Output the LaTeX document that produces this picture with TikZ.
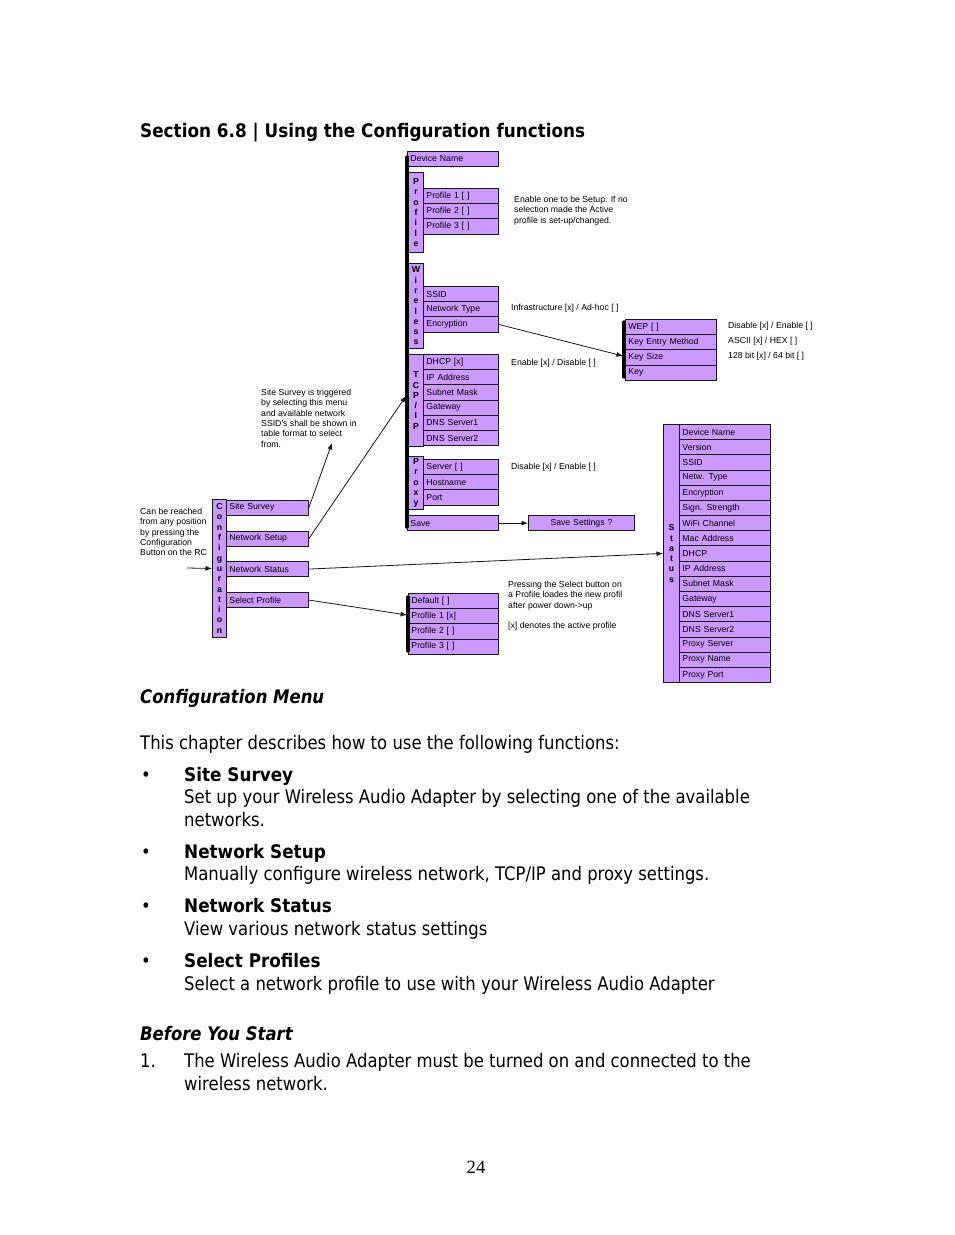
\documentclass[tikz,border=0pt]{standalone}
\usepackage{fontspec}
\setmainfont{Liberation Serif}
\newfontfamily\bodyfont[FakeStretch=0.88, BoldFeatures={FakeStretch=0.9}]{DejaVu Sans}
\newfontfamily\diafont{Liberation Sans}
\usetikzlibrary{arrows.meta,positioning}
\definecolor{menu}{RGB}{204,153,255}
\newcommand{\bodysize}{\fontsize{18.7}{22.5}\selectfont}
\newcommand{\diasize}{\fontsize{8.7}{10.3}\selectfont}

\tikzset{
	item/.style={draw=black!90, fill=menu, line width=0.9pt, anchor=north west,
		minimum height=15.2pt, inner xsep=3pt, inner ysep=0pt, text width=#1,
		align=left, font=\diafont\diasize},
	item/.default=69pt,
	tab/.style={draw=black!90, fill=menu, line width=0.9pt, anchor=north west,
		minimum width=15pt, inner sep=0pt, align=center, font=\diafont\bfseries\diasize},
	spine/.style={line width=3.4pt, line cap=round},
	link/.style={-{Latex[length=6.5pt,width=5pt]}, line width=0.8pt, black!90},
	note/.style={anchor=north west, inner sep=0pt, align=left, font=\diafont\diasize},
	body/.style={anchor=base west, inner sep=0pt, font=\bodyfont\bodysize},
	head/.style={body, font=\bodyfont\bfseries\bodysize},
	headit/.style={body, font=\bodyfont\bfseries\itshape\bodysize}
}

\begin{document}
\begin{tikzpicture}[x=1pt, y=-1pt]
	\useasboundingbox[fill=white] (0,0) rectangle (954,1235);
	% Ueberschrift
	\node[head] (title) at (140,137.5) {Section 6.8 | Using the Configuration functions};
	% Konfiguration
	\node[tab, minimum height=138pt, minimum width=14pt] (config) at (212,499) {C\\o\\n\\f\\i\\g\\u\\r\\a\\t\\i\\o\\n};
	\node[item=76pt] (survey) at (226,499.5) {Site Survey};
	\node[item=76pt] (setup) at (226,530.5) {Network Setup};
	\node[item=76pt] (netstatus) at (226,561) {Network Status};
	\node[item=76pt] (select) at (226,592) {Select Profile};
	% Network Setup
	\node[item=85pt] (devname) at (407,150.5) {Device Name};
	\node[tab, minimum height=80pt] (profile) at (408,172) {P\\r\\o\\f\\i\\l\\e};
	\node[item] (prof1) at (423,188) {Profile 1 [ ]};
	\node[item] (prof2) at (423,203.2) {Profile 2 [ ]};
	\node[item] (prof3) at (423,218.4) {Profile 3 [ ]};
	\node[tab, minimum height=85pt] (wireless) at (408,263) {W\\i\\r\\e\\l\\e\\s\\s};
	\node[item] (ssid) at (423,286) {SSID};
	\node[item] (nettype) at (423,301.2) {Network Type};
	\node[item] (encrypt) at (423,316.4) {Encryption};
	\node[tab, minimum height=92pt] (tcpip) at (408,354) {T\\C\\P\\/\\I\\P};
	\node[item] (dhcp) at (423,354) {DHCP [x]};
	\node[item] (ipaddr) at (423,369.2) {IP Address};
	\node[item] (subnet) at (423,384.4) {Subnet Mask};
	\node[item] (gateway) at (423,399.6) {Gateway};
	\node[item] (dnsa) at (423,414.8) {DNS Server1};
	\node[item] (dnsb) at (423,430) {DNS Server2};
	\node[tab, minimum height=53pt] (proxy) at (408,456) {P\\r\\o\\x\\y};
	\node[item] (server) at (423,459) {Server [ ]};
	\node[item] (hostname) at (423,474.2) {Hostname};
	\node[item] (port) at (423,489.4) {Port};
	\node[item=85pt] (save) at (407,515) {Save};
	\node[item=100pt, align=center] (savesettings) at (528,515) {Save Settings ?};
	% WEP
	\node[item=85pt] (wep) at (625,319) {WEP [ ]};
	\node[item=85pt] (keyentry) at (625,334.2) {Key Entry Method};
	\node[item=85pt] (keysize) at (625,349.4) {Key Size};
	\node[item=85pt] (key) at (625,364.6) {Key};
	% Profil waehlen
	\node[item=84pt] (default) at (408,593) {Default [ ]};
	\node[item=84pt] (selone) at (408,608.2) {Profile 1 [x]};
	\node[item=84pt] (seltwo) at (408,623.4) {Profile 2 [ ]};
	\node[item=84pt] (selthree) at (408,638.6) {Profile 3 [ ]};
	% Status
	\node[tab, minimum height=258pt, minimum width=16pt] (status) at (663,424) {S\\t\\a\\t\\u\\s};
	\node[item=85pt] (stdev) at (679,424) {Device Name};
	\node[item=85pt] (stver) at (679,439.2) {Version};
	\node[item=85pt] (stssid) at (679,454.4) {SSID};
	\node[item=85pt] (sttype) at (679,469.5) {Netw. Type};
	\node[item=85pt] (stenc) at (679,484.7) {Encryption};
	\node[item=85pt] (stsign) at (679,499.9) {Sign. Strength};
	\node[item=85pt] (stchan) at (679,515.1) {WiFi Channel};
	\node[item=85pt] (stmac) at (679,530.3) {Mac Address};
	\node[item=85pt] (stdhcp) at (679,545.4) {DHCP};
	\node[item=85pt] (stip) at (679,560.6) {IP Address};
	\node[item=85pt] (stmask) at (679,575.8) {Subnet Mask};
	\node[item=85pt] (stgate) at (679,591) {Gateway};
	\node[item=85pt] (stdnsa) at (679,606.2) {DNS Server1};
	\node[item=85pt] (stdnsb) at (679,621.3) {DNS Server2};
	\node[item=85pt] (stpserver) at (679,636.5) {Proxy Server};
	\node[item=85pt] (stpname) at (679,651.7) {Proxy Name};
	\node[item=85pt] (stpport) at (679,666.9) {Proxy Port};
	% Balken
	\draw[spine] (407,157) -- (407,527);
	\draw[spine] (624,322) -- (624,377);
	\draw[spine] (408,597) -- (408,651);
	% Hinweise
	\node[note] (cfgnote) at (140,508) {Can be reached\\from any position\\by pressing the\\Configuration\\Button on the RC};
	\node[note] (surveynote) at (261,389) {Site Survey is triggered\\by selecting this menu\\and available network\\SSID's shall be shown in\\table format to select\\from.};
	\node[note] (profnote) at (514,196) {Enable one to be Setup. If no\\selection made the Active\\profile is set-up/changed.};
	\node[note, anchor=west] (typenote) at (511,308) {Infrastructure [x] / Ad-hoc [ ]};
	\node[note, anchor=west] (dhcpnote) at (511,363) {Enable [x] / Disable [ ]};
	\node[note, anchor=west] (proxynote) at (511,467) {Disable [x] / Enable [ ]};
	\node[note, font=\diafont\fontsize{8.7}{15}\selectfont] (wepnote) at (728,322) {Disable [x] / Enable [ ]\\ASCII [x] / HEX [ ]\\128 bit [x] / 64 bit [ ]};
	\node[note] (selnote) at (508,581) {Pressing the Select button on\\a Profile loades the new profil\\after power down->up\\[10.3pt]{[x]} denotes the active profile};
	% Pfeile
	\coordinate (entry) at (187,568);
	\coordinate (surveytip) at (332,443);
	\coordinate (setupin) at (406,396);
	\coordinate (selectin) at (407,615);
	\coordinate (wepin) at (623,356);
	\draw[link] (entry) -- (config.west);
	\draw[link] (survey.east) -- (surveytip);
	\draw[link] (setup.east) -- (setupin);
	\draw[link] (netstatus.east) -- (status.west);
	\draw[link] (select.east) -- (selectin);
	\draw[link] (encrypt.east) -- (wepin);
	\draw[link] (save.east) -- (savesettings.west);
	% Text unten
	\node[headit] (menucap) at (140,703.5) {Configuration Menu};
	\node[body] (intro) at (140,749.5) {This chapter describes how to use the following functions:};
	\node[body] (bulleta) at (141,781.5) {•};
	\node[head] (surveyhead) at (184,781.5) {Site Survey};
	\node[body] (surveytxt) at (184,803.5) {Set up your Wireless Audio Adapter by selecting one of the available};
	\node[body] (surveytxtb) at (184,826.5) {networks.};
	\node[body] (bulletb) at (141,858.5) {•};
	\node[head] (setuphead) at (184,858.5) {Network Setup};
	\node[body] (setuptxt) at (184,880.5) {Manually configure wireless network, TCP/IP and proxy settings.};
	\node[body] (bulletc) at (141,912.5) {•};
	\node[head] (statushead) at (184,912.5) {Network Status};
	\node[body] (statustxt) at (184,935.5) {View various network status settings};
	\node[body] (bulletd) at (141,967.5) {•};
	\node[head] (selecthead) at (184,967.5) {Select Profiles};
	\node[body] (selecttxt) at (184,990.5) {Select a network profile to use with your Wireless Audio Adapter};
	\node[headit] (beforehead) at (140,1040.5) {Before You Start};
	\node[body] (stepnum) at (140,1067.5) {1.};
	\node[body] (steptxt) at (184,1067.5) {The Wireless Audio Adapter must be turned on and connected to the};
	\node[body] (steptxtb) at (184,1090.5) {wireless network.};
	\node[anchor=base, inner sep=0pt, font=\fontsize{18.7}{22}\selectfont] (pagenum) at (476,1173) {24};
\end{tikzpicture}
\end{document}
